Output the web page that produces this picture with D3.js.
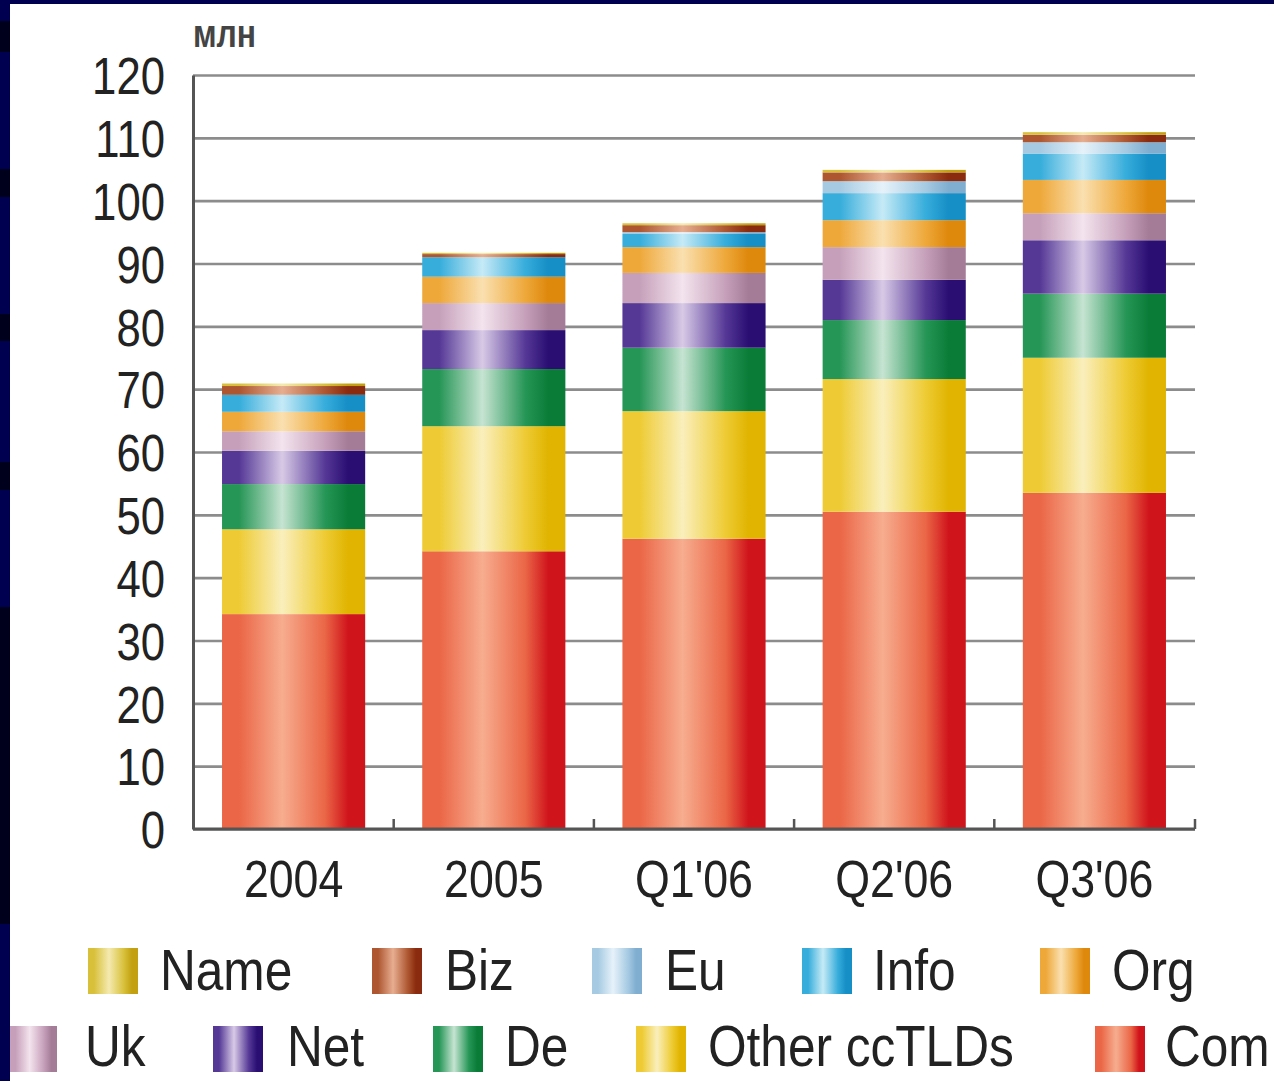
<!DOCTYPE html>
<html>
<head>
<meta charset="utf-8">
<script src="https://cdn.jsdelivr.net/npm/d3@7"></script>
<style>
  html, body { margin: 0; padding: 0; background: #000050; }
  svg { display: block; }
  text { font-family: "Liberation Sans", Arial, sans-serif; }
</style>
</head>
<body>
<svg id="chart" width="1274" height="1081"></svg>
<script>
// ---------- DATA ----------
const categories = ["2004", "2005", "Q1'06", "Q2'06", "Q3'06"];
// stack order, bottom to top
const seriesNames = ["Com", "Other ccTLDs", "De", "Net", "Uk", "Org", "Info", "Eu", "Biz", "Name"];
const com         = [34.2, 44.2, 46.2, 50.5, 53.5];
const otherCcTLDs = [13.5, 19.9, 20.3, 21.1, 21.5];
const de          = [7.2, 9.1, 10.1, 9.4, 10.2];
const net         = [5.3, 6.2, 7.1, 6.4, 8.5];
const uk          = [3.1, 4.3, 4.8, 5.2, 4.3];
const org         = [3.1, 4.2, 4.1, 4.3, 5.3];
const info        = [2.7, 3.1, 2.1, 4.3, 4.2];
const eu          = [0, 0, 0.3, 1.9, 1.8];
const biz         = [1.4, 0.5, 1.1, 1.4, 1.2];
const nameTLD     = [0.4, 0.2, 0.3, 0.4, 0.4];
const yTicks = [0, 10, 20, 30, 40, 50, 60, 70, 80, 90, 100, 110, 120];
const unitLabel = "млн";
// legend order (two rows)
const legendRow1 = ["Name", "Biz", "Eu", "Info", "Org"];
const legendRow2 = ["Uk", "Net", "De", "Other ccTLDs", "Com"];

// ---------- STYLES ----------
const palette = {
  "Com":          { dark: "#d0141c", mid: "#ea6646", light: "#f7ad8f" },
  "Other ccTLDs": { dark: "#e0b400", mid: "#eecb34", light: "#faefbc" },
  "De":           { dark: "#0b7c38", mid: "#269656", light: "#c6e4d2" },
  "Net":          { dark: "#2a0e72", mid: "#553896", light: "#d8cae6" },
  "Uk":           { dark: "#a47c98", mid: "#c6a0ba", light: "#f3e4ee" },
  "Org":          { dark: "#de880c", mid: "#eea83a", light: "#fae0b0" },
  "Info":         { dark: "#168ec6", mid: "#36addb", light: "#c6eaf6" },
  "Eu":           { dark: "#80aed0", mid: "#a6cae2", light: "#e6f2fa" },
  "Biz":          { dark: "#8a2a0e", mid: "#ad5630", light: "#e6ae90" },
  "Name":         { dark: "#c2a010", mid: "#d8c03a", light: "#f4eab0" }
};

const rows = categories.map((c, i) => ({
  cat: c,
  "Com": com[i], "Other ccTLDs": otherCcTLDs[i], "De": de[i], "Net": net[i],
  "Uk": uk[i], "Org": org[i], "Info": info[i], "Eu": eu[i], "Biz": biz[i], "Name": nameTLD[i]
}));

const svg = d3.select("#chart");
const W = 1274, H = 1081;

// background: navy frame + white panel
svg.append("rect").attr("width", W).attr("height", H).attr("fill", "#000050");
[[21, 52], [169, 197], [314, 341], [462, 490], [607, 924]].forEach(([a, b]) => {
  svg.append("rect").attr("x", 0).attr("y", a).attr("width", 10).attr("height", b - a).attr("fill", "#00001c");
});
svg.append("rect").attr("x", 10).attr("y", 4).attr("width", W - 10).attr("height", H - 4).attr("fill", "#ffffff");

// gradients
const defs = svg.append("defs");
seriesNames.forEach((s, i) => {
  const p = palette[s];
  const g = defs.append("linearGradient").attr("id", "grad" + i)
    .attr("x1", "0%").attr("x2", "100%").attr("y1", "0%").attr("y2", "0%");
  [[0, p.mid], [0.12, p.mid], [0.42, p.light], [0.72, p.mid], [0.88, p.dark], [1, p.dark]]
    .forEach(([o, c]) => g.append("stop").attr("offset", o).attr("stop-color", c));
});

// scales
const x = d3.scaleBand().domain(categories).range([193, 1195]).paddingInner(0.285).paddingOuter(0.145);
const y = d3.scaleLinear().domain([0, 120]).range([829, 75]);

// gridlines
const grid = svg.append("g").attr("transform", "translate(193,0)")
  .call(d3.axisLeft(y).tickValues(yTicks).tickSize(-(1195 - 193)).tickFormat(""));
grid.select(".domain").remove();
grid.selectAll(".tick line").attr("stroke", "#8c8c8c").attr("stroke-width", 2.6);

// stacked bars
const stacked = d3.stack().keys(seriesNames)(rows);
const layers = svg.append("g").selectAll("g").data(stacked).join("g")
  .attr("fill", (d, i) => "url(#grad" + i + ")");
layers.selectAll("rect").data(d => d).join("rect")
  .attr("x", d => x(d.data.cat))
  .attr("width", x.bandwidth())
  .attr("y", d => y(d[1]))
  .attr("height", d => Math.max(0, y(d[0]) - y(d[1])));

// y axis
const yAxis = svg.append("g").attr("transform", "translate(193,0)")
  .call(d3.axisLeft(y).tickValues(yTicks).tickSize(0).tickPadding(0));
yAxis.select(".domain").attr("stroke", "#555").attr("stroke-width", 3);
yAxis.selectAll(".tick text")
  .attr("x", 0).attr("dy", "0.36em")
  .attr("transform", "translate(-28,0) scale(0.84,1)")
  .attr("text-anchor", "end")
  .attr("fill", "#222")
  .style("font-size", "52px")
  .style("font-family", "'Liberation Sans', Arial, sans-serif");

// x axis
const xAxis = svg.append("g").attr("transform", "translate(0,829)")
  .call(d3.axisBottom(x).tickSize(0).tickPadding(0));
xAxis.select(".domain").attr("stroke", "#555").attr("stroke-width", 3)
  .attr("d", "M193,0H1195");
xAxis.selectAll(".tick text")
  .attr("y", 0).attr("dy", 0)
  .attr("transform", "translate(0,68) scale(0.86,1)")
  .attr("fill", "#222")
  .style("font-size", "52px")
  .style("font-family", "'Liberation Sans', Arial, sans-serif");
// small separator ticks between bars and at right end
const sepX = categories.slice(1).map(c => x(c) - x.step() * x.paddingInner() / 2).concat([1195]);
svg.append("g").selectAll("line").data(sepX).join("line")
  .attr("x1", d => d).attr("x2", d => d).attr("y1", 829).attr("y2", 819)
  .attr("stroke", "#555").attr("stroke-width", 2.5);

// unit label
svg.append("text")
  .attr("transform", "translate(193,47) scale(0.84,1)")
  .attr("fill", "#444").attr("font-weight", "bold")
  .style("font-size", "38px")
  .text(unitLabel);

// legend
const legendLayout = [
  { names: legendRow1, y: 948, base: 990, sw: [88, 372, 592, 802, 1040], tx: [160, 445, 665, 873, 1112] },
  { names: legendRow2, y: 1026, base: 1066, sw: [10, 213, 433, 636, 1095], tx: [85, 287, 505, 708, 1165] }
];
legendLayout.forEach(row => {
  row.names.forEach((n, j) => {
    const idx = seriesNames.indexOf(n);
    const w = j === 0 && row.sw[j] === 10 ? 47 : 50;
    svg.append("rect").attr("x", row.sw[j]).attr("y", row.y)
      .attr("width", w).attr("height", 46)
      .attr("fill", "url(#grad" + idx + ")");
    svg.append("text")
      .attr("transform", `translate(${row.tx[j]},${row.base}) scale(0.87,1)`)
      .attr("fill", "#222")
      .style("font-size", "57px")
      .text(n);
  });
});
</script>
</body>
</html>
